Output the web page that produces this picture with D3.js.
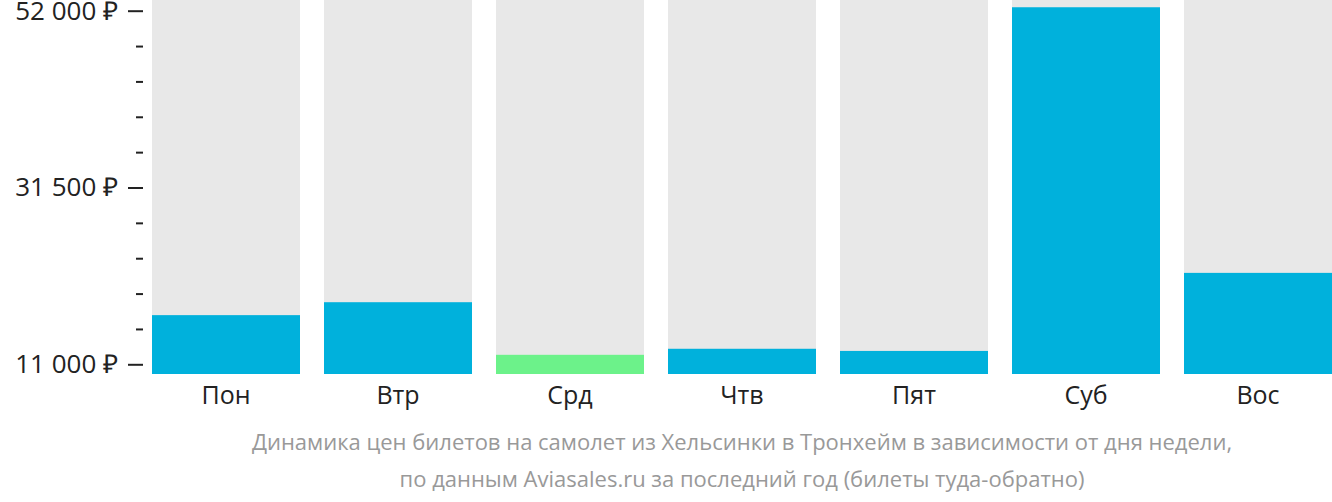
<!DOCTYPE html>
<html><head><meta charset="utf-8">
<script src="https://cdn.jsdelivr.net/npm/d3@7"></script>
<style>
body{margin:0;background:#fff;}
svg{display:block;font-family:"Open Sans",sans-serif;}
</style></head>
<body>
<svg id="chart" width="1332" height="502"></svg>
<script>
const categories = ["Пон","Втр","Срд","Чтв","Пят","Суб","Вос"];
const prices = [16700, 18200, 12100, 12800, 12550, 52400, 21600];
const cheapestIndex = 2;
const majorTicks = [11000, 31500, 52000];
const minorTicks = [15100, 19200, 23300, 27400, 35600, 39700, 43800, 47900];
const titleLines = ["Динамика цен билетов на самолет из Хельсинки в Тронхейм в зависимости от дня недели,",
                    "по данным Aviasales.ru за последний год (билеты туда-обратно)"];

const svg = d3.select("#chart");
const x = d3.scaleBand().domain(categories).range([152, 1332]).paddingInner(24/172).paddingOuter(0);
const y = d3.scaleLinear().domain([9875, 53240]).range([374, 0]);

// background bars
svg.append("g").selectAll("rect").data(categories).join("rect")
  .attr("x", d => x(d)).attr("width", x.bandwidth())
  .attr("y", y.range()[1]).attr("height", y.range()[0] - y.range()[1])
  .attr("fill", "#e8e8e8");

// value bars
svg.append("g").selectAll("rect").data(prices).join("rect")
  .attr("x", (d,i) => x(categories[i])).attr("width", x.bandwidth())
  .attr("y", d => y(d)).attr("height", d => y.range()[0] - y(d))
  .attr("fill", (d,i) => i === cheapestIndex ? "#6cf28a" : "#00b1dc");

// y axis major
const fmt = v => d3.format(",")(v).replace(/,/g, " ") + " ₽";
const yMajor = d3.axisLeft(y).tickValues(majorTicks).tickFormat(fmt).tickSize(15).tickPadding(10);
const gy = svg.append("g").attr("transform", "translate(143,0)").call(yMajor);
gy.select(".domain").remove();
gy.selectAll("line").attr("stroke", "#222").attr("stroke-width", 2);
gy.selectAll("text").attr("fill", "#222").style("font-size", "26px").style("font-family", "'Open Sans',sans-serif");

const yMinor = d3.axisLeft(y).tickValues(minorTicks).tickFormat("").tickSize(7);
const gm = svg.append("g").attr("transform", "translate(143,0)").call(yMinor);
gm.select(".domain").remove();
gm.selectAll("line").attr("stroke", "#222").attr("stroke-width", 2);

// x axis
const gx = svg.append("g").attr("transform", "translate(0,374)").call(d3.axisBottom(x).tickSize(0).tickPadding(12));
gx.select(".domain").remove();
gx.selectAll("text").attr("fill", "#222").style("font-size", "25px").style("font-family", "'Open Sans',sans-serif");

// title
svg.append("g").selectAll("text").data(titleLines).join("text")
  .attr("x", (x.range()[0] + x.range()[1]) / 2)
  .attr("y", (d,i) => 450 + i * 37)
  .attr("text-anchor", "middle")
  .attr("fill", "#999")
  .style("font-size", "22px")
  .text(d => d);
</script>
</body></html>
